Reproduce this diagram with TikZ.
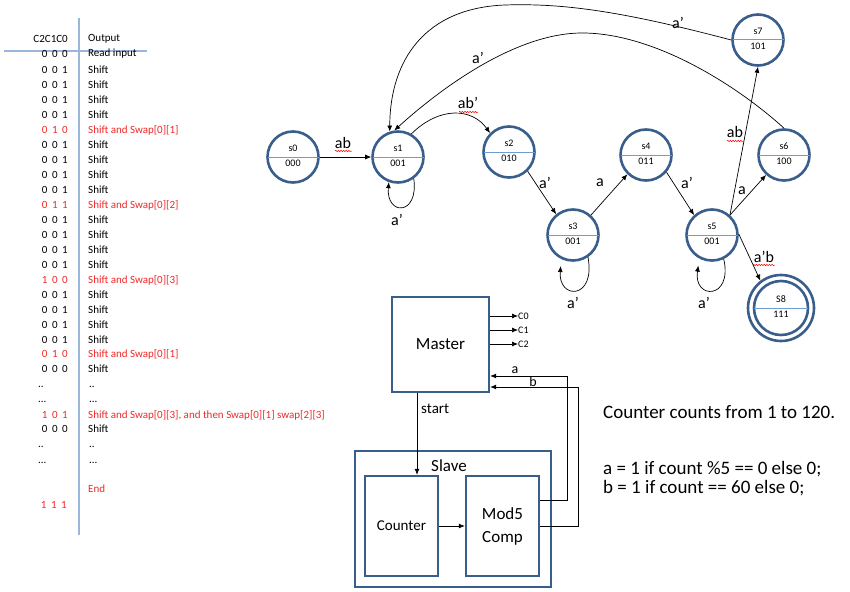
\documentclass[tikz,border=0pt]{standalone}
\usepackage{fontspec}
\setmainfont{Carlito}
\usetikzlibrary{arrows.meta,decorations.pathmorphing}
\definecolor{ringblue}{HTML}{3A5E8C}
\definecolor{splitblue}{HTML}{6E9DD3}
\definecolor{gridblue}{HTML}{9AB6DA}
\definecolor{swapred}{HTML}{F02828}

% one state of the machine: ring, dividing line, name above, code below
\newcommand\fsmstate[5]{%
  \node[st] (#1) at (#2,#3) {};
  \draw[split] (#1.west) -- (#1.east);
  \node[stxt] (#1n) at (#2,#3-8.5) {#4};
  \node[stxt] (#1v) at (#2,#3+6) {#5};}
% counter bits with wider gaps between the digits
\newcommand\widebits[1]{{\spaceskip=4.6pt\relax #1}}

\begin{document}
\begin{tikzpicture}[x=1pt,y=-1pt,
  st/.style={circle, draw=ringblue, line width=2.6pt, minimum size=51pt, inner sep=0pt},
  split/.style={splitblue, line width=1pt, shorten <=1.3pt, shorten >=1.3pt},
  stxt/.style={font=\fontsize{10}{12}\selectfont, inner sep=0pt},
  arr/.style={-{Latex[length=6pt,width=5pt]}, line width=0.7pt},
  elab/.style={font=\fontsize{16}{18}\selectfont, inner sep=0pt},
  squig/.style={draw=red, decorate, decoration={snake, amplitude=0.7pt, segment length=2.6pt}, line width=0.5pt},
  blk/.style={draw=ringblue, line width=2.4pt, inner sep=0pt},
  tline/.style={gridblue, line width=1.2pt},
  tbl/.style={font=\fontsize{11}{13}\selectfont, inner sep=0pt},
  note/.style={font=\fontsize{19}{21}\selectfont, inner sep=0pt, anchor=west}]

\useasboundingbox (0,0) rectangle (850,591);

% ---------------- counter / output table ----------------
\draw[tline] (79,18) -- (79,535);
\draw[tline] (4,51) -- (147,51);
\node[tbl, anchor=east] (hc) at (68,39) {C2C1C0};
\node[tbl, anchor=west] (ho) at (88,39) {Output};

\foreach \i/\y/\c/\o/\k in {
  1/54/0 0 0/Read input/black,
  2/70/0 0 1/Shift/black,
  3/85/0 0 1/Shift/black,
  4/100/0 0 1/Shift/black,
  5/115/0 0 1/Shift/black,
  6/130/0 1 0/Shift and Swap[0][1]/swapred,
  7/145/0 0 1/Shift/black,
  8/160/0 0 1/Shift/black,
  9/175/0 0 1/Shift/black,
  10/190/0 0 1/Shift/black,
  11/205/0 1 1/Shift and Swap[0][2]/swapred,
  12/220/0 0 1/Shift/black,
  13/235/0 0 1/Shift/black,
  14/250/0 0 1/Shift/black,
  15/265/0 0 1/Shift/black,
  16/280/1 0 0/Shift and Swap[0][3]/swapred,
  17/295/0 0 1/Shift/black,
  18/310/0 0 1/Shift/black,
  19/325/0 0 1/Shift/black,
  20/340/0 0 1/Shift/black,
  21/354/0 1 0/Shift and Swap[0][1]/swapred,
  22/369/0 0 0/Shift/black,
  24/415/1 0 1/{Shift and Swap[0][3], and then Swap[0][1] swap[2][3]}/swapred,
  25/429/0 0 0/Shift/black}
{
  \node[tbl, anchor=east, text=\k] (code\i) at (68,\y) {\widebits{\c}};
  \node[tbl, anchor=west, text=\k] (out\i) at (88,\y) {\o};
}
% elided rows
\node[tbl, anchor=west] (dcodea) at (38,387) {..};
\node[tbl, anchor=west] (douta)  at (89,387) {..};
\node[tbl, anchor=west] (dcodeb) at (38,402) {...};
\node[tbl, anchor=west] (doutb)  at (89,402) {...};
\node[tbl, anchor=west] (dcodec) at (38,447) {..};
\node[tbl, anchor=west] (doutc)  at (89,447) {..};
\node[tbl, anchor=west] (dcoded) at (38,463) {...};
\node[tbl, anchor=west] (doutd)  at (89,463) {...};
\node[tbl, anchor=west, text=swapred] (outend) at (88,489) {End};
\node[tbl, anchor=east, text=swapred] (codeend) at (67,505) {\widebits{1 1 1}};

% ---------------- state machine ----------------
\fsmstate{s0}{293}{157}{s0}{000}
\fsmstate{s1}{398}{157}{s1}{001}
\fsmstate{s2}{509}{152}{s2}{010}
\fsmstate{s3}{573}{235}{s3}{001}
\fsmstate{s4}{646}{155}{s4}{011}
\fsmstate{s5}{712}{235}{s5}{001}
\fsmstate{s6}{784}{155}{s6}{100}
\fsmstate{s7}{758}{40}{s7}{101}
\node[st, minimum size=66pt] (s8) at (781,308) {};
\node[st, minimum size=54pt] (s8i) at (781,308) {};
\draw[split] (s8i.west) -- (s8i.east);
\node[stxt] (s8n) at (781,299.5) {S8};
\node[stxt] (s8v) at (781,314) {111};

% transitions
\draw[arr] (s0) -- (s1);
\node[elab] (l01) at (343,143) {ab};
\draw[squig] (335,151) -- (352,151);

\draw[arr] (s1.-54) .. controls (419,216) and (386,216) .. (s1.-110);
\node[elab] (l11) at (397,220) {a’};

\draw[arr] (s1.60) .. controls (440,106) and (472,108) .. (s2.135);
\node[elab] (l12) at (468,103) {ab’};
\draw[squig] (459,112) -- (478,112);

\draw[arr] (s2.-46) -- (s3.129);
\node[elab] (l23) at (545,183) {a’};

\draw[arr, shorten >=7pt] (s3.-56) .. controls (596,300) and (558,300) .. (s3.-116);
\node[elab] (l33) at (573,303) {a’};

\draw[arr] (s3.48) -- (s4.-134);
\node[elab] (l34) at (600,183) {a};

\draw[arr] (s4.-40) -- (s5.132);
\node[elab] (l45) at (687,183) {a’};

\draw[arr, shorten >=7pt] (s5.-64) .. controls (733,300) and (693,300) .. (s5.-118);
\node[elab] (l55) at (704,303) {a’};

\draw[arr] (s5.48) -- (s6.-132);
\node[elab] (l56) at (742,191) {a};

\draw[arr] (s5.48) -- (s7.-90);
\node[elab] (l57) at (735,132) {ab};
\draw[squig] (727,141) -- (744,141);

\draw[arr] (s5.2) -- (s8.127);
\node[elab] (l58) at (764,257) {a’b};
\draw[squig] (753,265) -- (775,265);

\draw[arr] (s6.north) .. controls (740,88) and (655,32) .. (580,33)
                      .. controls (520,34) and (450,80) .. (s1.98);
\node[elab] (l61) at (478,58) {a’};

\draw[arr] (s7.west) .. controls (625,12) and (565,3) .. (505,5)
                     .. controls (425,8) and (390,60) .. (s1.108);
\node[elab] (l71) at (678,23) {a’};

% ---------------- master / slave block diagram ----------------
\node[blk, minimum width=97pt, minimum height=95pt, font=\fontsize{17}{19}\selectfont]
  (master) at (440.5,344.5) {Master};
\node[blk, minimum width=196pt, minimum height=136pt] (slave) at (453,519) {};
\node[inner sep=0pt, font=\fontsize{17}{19}\selectfont] (slavel) at (449,466) {Slave};
\node[blk, minimum width=73pt, minimum height=100pt, font=\fontsize{15}{17}\selectfont]
  (counter) at (401.5,526) {Counter};
\node[blk, minimum width=73pt, minimum height=100pt, align=center,
      font=\fontsize{17}{23}\selectfont] (mod) at (502.5,526) {Mod5\\Comp};

\draw[arr] (counter) -- (mod);

% outputs of the master
\node[tbl, anchor=west, font=\fontsize{10}{12}\selectfont] (c0) at (518,316) {C0};
\node[tbl, anchor=west, font=\fontsize{10}{12}\selectfont] (c1) at (518,330) {C1};
\node[tbl, anchor=west, font=\fontsize{10}{12}\selectfont] (c2) at (518,344) {C2};
\draw[arr] (master.east |- c0.west) -- (c0.west);
\draw[arr] (master.east |- c1.west) -- (c1.west);
\draw[arr] (master.east |- c2.west) -- (c2.west);

% start signal
\coordinate (startx) at (417,0);
\draw[arr] (master.south -| startx) -- (counter.north -| startx);
\node[inner sep=0pt, anchor=west, font=\fontsize{15}{17}\selectfont] (startl) at (421,409) {start};

% a and b fed back to the master
\coordinate (arow) at (0,500);
\coordinate (brow) at (0,526);
\coordinate (acol) at (567,376);
\coordinate (bcol) at (578,387);
\draw[arr] (mod.east |- arow) -| (acol) -- (master.east |- acol);
\draw[arr] (mod.east |- brow) -| (bcol) -- (master.east |- bcol);
\node[inner sep=0pt, font=\fontsize{14}{16}\selectfont] (al) at (515,370) {a};
\node[inner sep=0pt, font=\fontsize{14}{16}\selectfont] (bl) at (533,382) {b};

% ---------------- notes ----------------
\node[note] (n1) at (603,412) {Counter counts from 1 to 120.};
\node[note] (n2) at (603,469) {a = 1 if count \%5 == 0 else 0;};
\node[note] (n3) at (603,488) {b = 1 if count == 60 else 0;};
\end{tikzpicture}
\end{document}
